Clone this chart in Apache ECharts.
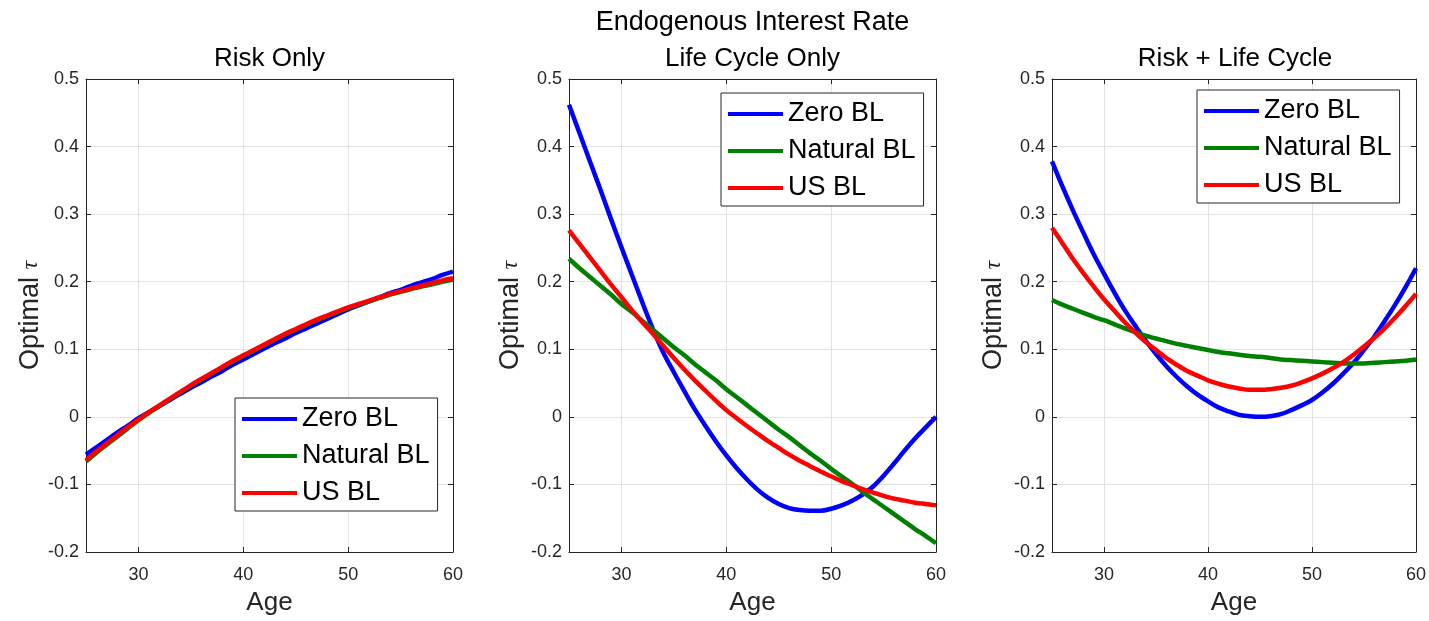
<!DOCTYPE html>
<html>
<head>
<meta charset="utf-8">
<title>Endogenous Interest Rate</title>
<script src="https://cdn.jsdelivr.net/npm/echarts@6/dist/echarts.min.js"></script>
<style>
  html, body { margin: 0; padding: 0; background: #ffffff; }
  #chart { width: 1429px; height: 621px; }
</style>
</head>
<body>
<div id="chart"></div>
<script>
// Age grid shared by every curve
const ages = [25, 26, 27, 28, 29, 30, 31, 32, 33, 34, 35, 36, 37, 38, 39, 40, 41, 42,
              43, 44, 45, 46, 47, 48, 49, 50, 51, 52, 53, 54, 55, 56, 57, 58, 59, 60];

// Risk only
const riskZero = [-0.056, -0.045, -0.034, -0.023, -0.013, -0.002, 0.007, 0.016, 0.025, 0.034, 0.043, 0.051,
                  0.060, 0.068, 0.077, 0.085, 0.093, 0.101, 0.109, 0.116, 0.124, 0.131, 0.138, 0.145,
                  0.152, 0.159, 0.165, 0.171, 0.177, 0.183, 0.188, 0.194, 0.199, 0.204, 0.210, 0.215];
const riskNatural = [-0.066, -0.053, -0.041, -0.029, -0.017, -0.005, 0.006, 0.016, 0.026, 0.036, 0.046, 0.055,
                     0.064, 0.073, 0.082, 0.090, 0.098, 0.106, 0.114, 0.122, 0.129, 0.136, 0.143, 0.149,
                     0.155, 0.161, 0.166, 0.171, 0.176, 0.181, 0.185, 0.189, 0.193, 0.196, 0.200, 0.203];
const riskUS = [-0.064, -0.051, -0.039, -0.027, -0.015, -0.004, 0.007, 0.017, 0.027, 0.037, 0.047, 0.056,
                0.065, 0.074, 0.083, 0.091, 0.099, 0.107, 0.115, 0.123, 0.130, 0.137, 0.144, 0.150,
                0.156, 0.162, 0.167, 0.172, 0.177, 0.182, 0.186, 0.190, 0.194, 0.198, 0.202, 0.205];

// Life cycle only
const lcZero = [0.462, 0.420, 0.378, 0.336, 0.293, 0.251, 0.210, 0.169, 0.130, 0.095, 0.066, 0.038,
                0.011, -0.013, -0.036, -0.057, -0.076, -0.093, -0.108, -0.120, -0.129, -0.135, -0.138, -0.139,
                -0.139, -0.136, -0.131, -0.124, -0.115, -0.103, -0.087, -0.069, -0.050, -0.032, -0.016, 0.000];
const lcNatural = [0.234, 0.220, 0.207, 0.194, 0.181, 0.167, 0.155, 0.142, 0.129, 0.116, 0.103, 0.091,
                   0.078, 0.066, 0.054, 0.041, 0.029, 0.017, 0.005, -0.007, -0.019, -0.030, -0.042, -0.054,
                   -0.065, -0.077, -0.088, -0.099, -0.111, -0.122, -0.133, -0.144, -0.155, -0.166, -0.176, -0.187];
const lcUS = [0.276, 0.256, 0.236, 0.216, 0.196, 0.177, 0.158, 0.140, 0.123, 0.105, 0.087, 0.070,
              0.054, 0.039, 0.024, 0.010, -0.002, -0.014, -0.025, -0.036, -0.046, -0.056, -0.065, -0.073,
              -0.081, -0.088, -0.095, -0.101, -0.107, -0.112, -0.117, -0.121, -0.124, -0.127, -0.129, -0.131];

// Risk + life cycle
const rlcZero = [0.378, 0.341, 0.306, 0.273, 0.241, 0.212, 0.184, 0.158, 0.135, 0.113, 0.093, 0.075,
                 0.059, 0.045, 0.033, 0.023, 0.014, 0.008, 0.003, 0.001, 0.000, 0.001, 0.004, 0.010,
                 0.017, 0.025, 0.036, 0.049, 0.064, 0.080, 0.099, 0.119, 0.142, 0.166, 0.192, 0.220];
const rlcNatural = [0.173, 0.166, 0.160, 0.154, 0.148, 0.143, 0.137, 0.131, 0.125, 0.120, 0.116, 0.112,
                    0.108, 0.105, 0.102, 0.099, 0.096, 0.094, 0.092, 0.090, 0.089, 0.087, 0.085, 0.084,
                    0.083, 0.082, 0.081, 0.080, 0.079, 0.079, 0.079, 0.080, 0.081, 0.082, 0.083, 0.085];
const rlcUS = [0.280, 0.257, 0.234, 0.213, 0.193, 0.174, 0.157, 0.140, 0.125, 0.111, 0.099, 0.087,
               0.077, 0.068, 0.061, 0.054, 0.049, 0.045, 0.042, 0.040, 0.040, 0.041, 0.043, 0.046,
               0.051, 0.057, 0.064, 0.072, 0.081, 0.092, 0.104, 0.117, 0.131, 0.147, 0.164, 0.182];

// Axis ticks and labels
const xTicks = [30, 40, 50, 60];
const yTicks = [-0.2, -0.1, 0, 0.1, 0.2, 0.3, 0.4, 0.5];
const xRange = [25, 60];
const yRange = [-0.2, 0.5];

const seriesNames = ['Zero BL', 'Natural BL', 'US BL'];
const seriesColors = ['#0000ff', '#008000', '#ff0000'];
const panelTitles = ['Risk Only', 'Life Cycle Only', 'Risk + Life Cycle'];
const figureTitle = 'Endogenous Interest Rate';
const xLabel = 'Age';
const yLabel = 'Optimal {t|τ}';
const panelData = [
  [riskZero, riskNatural, riskUS],
  [lcZero, lcNatural, lcUS],
  [rlcZero, rlcNatural, rlcUS]
];

// Layout of the three axes boxes
const FONT = "'Liberation Sans', Arial, Helvetica, sans-serif";
const INK = '#262626';
const GRID_COLOR = '#e2e2e2';
const boxes = [
  { left: 86, top: 79, width: 367, height: 478, nameGap: 42 },
  { left: 569, top: 79, width: 367, height: 478, nameGap: 45 },
  { left: 1052, top: 79, width: 366, height: 478, nameGap: 45 }
];
const legendPos = [
  { left: 235, top: 398 },
  { left: 721, top: 93 },
  { left: 1197, top: 90 }
];

const grid = boxes.map(b => ({ left: b.left, top: b.top, width: b.width, height: b.height, containLabel: false }));

const xAxis = [];
const yAxis = [];
boxes.forEach((b, i) => {
  // bottom axis with labels and vertical grid lines
  xAxis.push({
    type: 'value', gridIndex: i, position: 'bottom', min: xRange[0], max: xRange[1],
    name: xLabel, nameLocation: 'middle', nameGap: 38,
    nameTextStyle: { fontFamily: FONT, fontSize: 26, color: INK },
    axisLine: { show: true, onZero: false, lineStyle: { color: INK, width: 1 } },
    axisTick: { show: true, inside: true, length: 5, customValues: xTicks, lineStyle: { color: INK } },
    axisLabel: { show: true, customValues: xTicks, margin: 14, fontFamily: FONT, fontSize: 18, color: INK },
    splitLine: { show: true, customValues: xTicks, lineStyle: { color: GRID_COLOR, width: 1 } }
  });
  // left axis with labels and horizontal grid lines
  yAxis.push({
    type: 'value', gridIndex: i, position: 'left', min: yRange[0], max: yRange[1],
    name: yLabel, nameLocation: 'middle', nameGap: b.nameGap,
    nameTextStyle: {
      fontFamily: FONT, fontSize: 27, color: INK,
      rich: { t: { fontFamily: "'Liberation Serif', 'DejaVu Serif', serif", fontStyle: 'italic', fontSize: 24, color: INK } }
    },
    axisLine: { show: true, onZero: false, lineStyle: { color: INK, width: 1 } },
    axisTick: { show: true, inside: true, length: 5, customValues: yTicks, lineStyle: { color: INK } },
    axisLabel: {
      show: true, customValues: yTicks, margin: 7, fontFamily: FONT, fontSize: 18, color: INK,
      formatter: v => String(Math.round(v * 10) / 10)
    },
    splitLine: { show: true, customValues: yTicks, lineStyle: { color: GRID_COLOR, width: 1 } }
  });
});
boxes.forEach((b, i) => {
  // top and right edges of the box
  xAxis.push({
    type: 'value', gridIndex: i, position: 'top', min: xRange[0], max: xRange[1],
    axisLine: { show: true, onZero: false, lineStyle: { color: INK, width: 1 } },
    axisTick: { show: true, inside: true, length: 5, customValues: xTicks, lineStyle: { color: INK } },
    axisLabel: { show: false, customValues: xTicks },
    splitLine: { show: false }
  });
  yAxis.push({
    type: 'value', gridIndex: i, position: 'right', min: yRange[0], max: yRange[1],
    axisLine: { show: true, onZero: false, lineStyle: { color: INK, width: 1 } },
    axisTick: { show: true, inside: true, length: 5, customValues: yTicks, lineStyle: { color: INK } },
    axisLabel: { show: false, customValues: yTicks },
    splitLine: { show: false }
  });
});

const series = [];
panelData.forEach((group, i) => {
  group.forEach((vals, k) => {
    series.push({
      type: 'line', name: seriesNames[k], xAxisIndex: i, yAxisIndex: i,
      data: ages.map((a, j) => [a, vals[j]]),
      showSymbol: false, symbol: 'none', clip: true, silent: true,
      smooth: 0.35,
      color: seriesColors[k],
      lineStyle: { width: 4.5, color: seriesColors[k], cap: 'butt', join: 'round' },
      z: 2 + k
    });
  });
});

const legend = legendPos.map(p => ({
  data: seriesNames, orient: 'vertical', left: p.left, top: p.top,
  padding: [6, 8, 3, 7], itemGap: 7, itemWidth: 55, itemHeight: 4, icon: 'rect',
  backgroundColor: '#ffffff', borderColor: INK, borderWidth: 1, borderRadius: 0,
  selectedMode: false,
  textStyle: { fontFamily: FONT, fontSize: 27, color: '#000000', lineHeight: 30 }
}));

const title = [
  { text: figureTitle, left: 752.5, top: 9, textAlign: 'center', padding: 0,
    textStyle: { fontFamily: FONT, fontSize: 27, fontWeight: 'normal', color: '#000000' } }
].concat(panelTitles.map((t, i) => ({
  text: t, left: boxes[i].left + boxes[i].width / 2, top: 46, textAlign: 'center', padding: 0,
  textStyle: { fontFamily: FONT, fontSize: 26, fontWeight: 'normal', color: '#000000' }
})));

const chart = echarts.init(document.getElementById('chart'), null, { renderer: 'canvas' });
chart.setOption({
  animation: false,
  backgroundColor: '#ffffff',
  title, legend, grid, xAxis, yAxis, series
});
</script>
</body>
</html>
